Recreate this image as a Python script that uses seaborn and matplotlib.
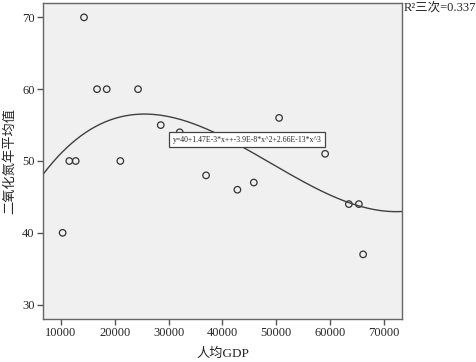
import numpy as np
import pandas as pd
import seaborn as sns
import matplotlib.pyplot as plt

# values
gdp = [10300, 11540, 12730, 14275, 16690, 18490, 21020, 24310, 28530,
       32060, 36950, 42770, 45820, 50520, 59070, 63480, 65340, 66130]
no2 = [40, 50, 50, 70, 60, 60, 50, 60, 55,
       54, 48, 46, 47, 56, 51, 44, 44, 37]
x_ticks = [10000, 20000, 30000, 40000, 50000, 60000, 70000]
y_ticks = [30, 40, 50, 60, 70]
# cubic fit coefficients as printed on the chart (highest power first)
fit_coef = [2.66e-13, -3.9e-8, 1.47e-3, 40]
eq_label = "y=40+1.47E-3*x++-3.9E-8*x^2+2.66E-13*x^3"
r2_label = "R\u00b2三次=0.337"

df = pd.DataFrame({"人均GDP": gdp, "二氧化氮年平均值": no2})

sns.set_style("ticks")
plt.rcParams['font.family'] = ['Liberation Serif', 'Noto Sans CJK SC']

fig = plt.figure(figsize=(4.76, 3.62), dpi=100)
ax = fig.add_axes([0.0903, 0.1188, 0.7542, 0.8729])
ax.set_facecolor("#f0f0f0")
xlim = (6650, 73350)
ax.set_xlim(*xlim)
ax.set_ylim(28, 72)

sns.scatterplot(data=df, x="人均GDP", y="二氧化氮年平均值", ax=ax, s=22,
                facecolors="none", edgecolor="#333333", linewidth=0.9)

# fitted cubic line across the whole axis range
xs = np.linspace(xlim[0], xlim[1], 300)
fit_df = pd.DataFrame({"x": xs, "y": np.polyval(fit_coef, xs)})
sns.lineplot(data=fit_df, x="x", y="y", ax=ax, color="#404040", lw=1.0)

ax.set_xticks(x_ticks)
ax.set_yticks(y_ticks)
ax.tick_params(labelsize=9, length=4, width=1, color="#555555", pad=2)
for s in ax.spines.values():
    s.set_color("#666666")
    s.set_linewidth(1.0)
ax.set_xlabel("人均GDP", fontsize=9.5, labelpad=6)
ax.set_ylabel("二氧化氮年平均值", fontsize=9.5, labelpad=4)

ax.text(44570, 52.94, eq_label, fontsize=5.6, ha="center", va="center",
        bbox=dict(boxstyle="square,pad=0.45", fc="white", ec="#444444", lw=0.9))
fig.text(0.848, 0.98, r2_label, fontsize=9, ha="left", va="center")

fig.savefig("out.png", dpi=100)
